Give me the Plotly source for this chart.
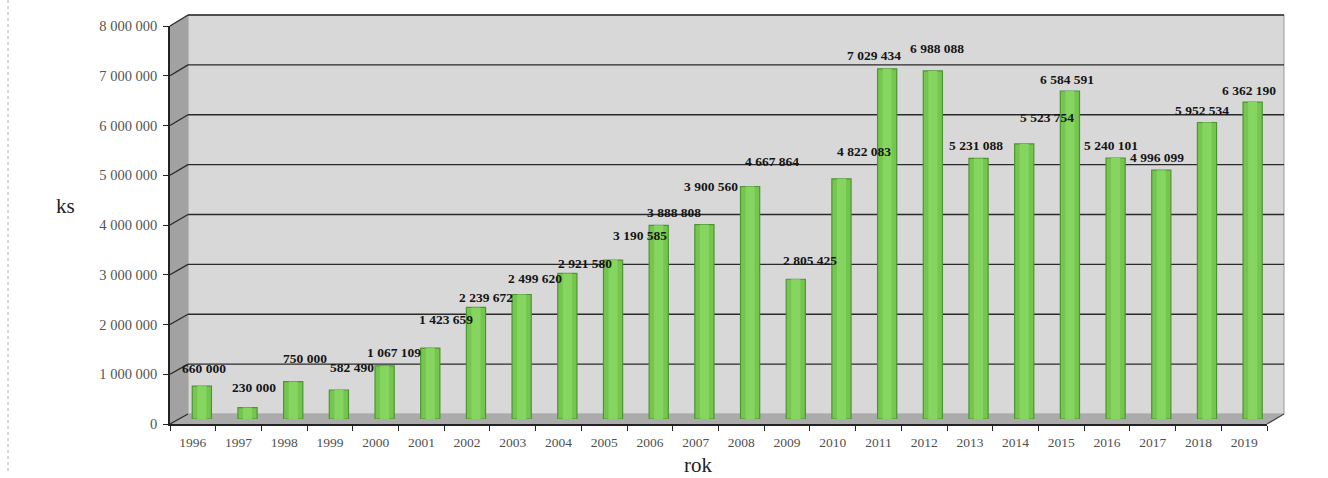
import plotly.graph_objects as go

# ---------------- data ----------------
years = ["1996", "1997", "1998", "1999", "2000", "2001", "2002", "2003",
         "2004", "2005", "2006", "2007", "2008", "2009", "2010", "2011",
         "2012", "2013", "2014", "2015", "2016", "2017", "2018", "2019"]
values = [660000, 230000, 750000, 582490, 1067109, 1423659, 2239672, 2499620,
          2921580, 3190585, 3888808, 3900560, 4667864, 2805425, 4822083, 7029434,
          6988088, 5231088, 5523754, 6584591, 5240101, 4996099, 5952534, 6362190]
labels = ["660 000", "230 000", "750 000", "582 490", "1 067 109", "1 423 659",
          "2 239 672", "2 499 620", "2 921 580", "3 190 585", "3 888 808", "3 900 560",
          "4 667 864", "2 805 425", "4 822 083", "7 029 434", "6 988 088", "5 231 088",
          "5 523 754", "6 584 591", "5 240 101", "4 996 099", "5 952 534", "6 362 190"]
y_tickvals = [0, 1000000, 2000000, 3000000, 4000000, 5000000, 6000000, 7000000, 8000000]
y_ticktext = ["0", "1 000 000", "2 000 000", "3 000 000", "4 000 000", "5 000 000",
              "6 000 000", "7 000 000", "8 000 000"]
Y_MAX = 8000000

# ---------------- layout / style ----------------
W, H = 1328, 478
FX0, FX1, FY0, FY1 = 170, 1267, 424, 26      # front axis plane (pixels)
BX0, BX1, BY0, BY1 = 188, 1284, 414, 15      # back wall plane
MX0, MX1, MY0, MY1 = 179, 1275.5, 419, 20.5  # bar plane (middle depth)

# pixel nudges of each data label relative to the top of its bar (as placed in the original)
label_dx = [2, 6, 12, 13, 9, 16, 10, 13, 18, 27, 15, 7,
            22, 14, 23, -13, 4, -3, 23, -3, -5, -4, -5, -4]
label_dy = [-18, -20, -23, -22, -13, -29, -10, -16, -10, -25, -13, -38,
            -25, -19, -27, -13, -22, -13, -26, -12, -12, -13, -12, -12]


def px(x):
    return x / W


def py(y):
    return 1 - y / H


def fy(v):
    return FY0 + (FY1 - FY0) * v / Y_MAX


def by(v):
    return BY0 + (BY1 - BY0) * v / Y_MAX


SERIF = "Liberation Serif, Times New Roman, serif"

fig = go.Figure()

fig.add_trace(go.Scatter(x=years, y=[None] * len(years), xaxis="x", yaxis="y",
                         mode="markers", showlegend=False, hoverinfo="skip"))
fig.add_trace(go.Scatter(x=years, y=[None] * len(years), xaxis="x2", yaxis="y2",
                         mode="markers", showlegend=False, hoverinfo="skip"))
# cylinder-like bars: body plus a lighter central highlight
fig.add_trace(go.Bar(x=years, y=values, xaxis="x3", yaxis="y3", width=0.42,
                     marker=dict(color="#74c64e", line=dict(color="#4f9434", width=1.2)),
                     showlegend=False))
fig.add_trace(go.Bar(x=years, y=values, xaxis="x3", yaxis="y3", width=0.2,
                     marker=dict(color="#86d561", line=dict(width=0)),
                     showlegend=False, hoverinfo="skip"))

shapes = []
shapes.append(dict(type="rect", xref="paper", yref="paper", layer="below",
                   x0=px(BX0), x1=px(BX1), y0=py(BY0), y1=py(BY1),
                   fillcolor="#d8d8d8", line=dict(color="#9a9a9a", width=1)))
shapes.append(dict(type="path", xref="paper", yref="paper", layer="below",
                   path=f"M {px(FX0)},{py(fy(Y_MAX))} L {px(BX0)},{py(BY1)} L {px(BX0)},{py(BY0)} L {px(FX0)},{py(FY0)} Z",
                   fillcolor="#a2a2a2", line=dict(width=0)))
shapes.append(dict(type="path", xref="paper", yref="paper", layer="below",
                   path=f"M {px(FX0)},{py(FY0)} L {px(BX0)},{py(BY0)} L {px(BX1)},{py(BY0)} L {px(FX1)},{py(FY0)} Z",
                   fillcolor="#ababab", line=dict(width=0)))
shapes.append(dict(type="line", xref="paper", yref="paper", layer="above",
                   x0=px(FX1), y0=py(FY0), x1=px(BX1), y1=py(BY0),
                   line=dict(color="#444444", width=1.2)))
for v in y_tickvals:
    shapes.append(dict(type="line", xref="paper", yref="paper", layer="below",
                       x0=px(FX0), y0=py(fy(v)), x1=px(BX0), y1=py(by(v)),
                       line=dict(color="#2a2a2a", width=1.4)))
for v in y_tickvals[1:]:
    shapes.append(dict(type="line", xref="paper", yref="paper", layer="below",
                       x0=px(BX0), y0=py(by(v)), x1=px(BX1), y1=py(by(v)),
                       line=dict(color="#2a2a2a", width=1.4)))
shapes.append(dict(type="line", xref="paper", yref="paper", layer="below",
                   x0=px(8), y0=py(0), x1=px(8), y1=py(472),
                   line=dict(color="#b0b0b0", width=1, dash="dot")))

annotations = []
for i, (v, t, dx, dy) in enumerate(zip(values, labels, label_dx, label_dy)):
    annotations.append(dict(x=i, y=v, xref="x3", yref="y3", text="<b>" + t + "</b>",
                            showarrow=False, xanchor="center", yanchor="middle",
                            xshift=dx, yshift=-dy,
                            font=dict(family=SERIF, size=13.5, color="#151515")))
annotations.append(dict(x=px(65), y=py(206), xref="paper", yref="paper", text="ks",
                        xanchor="center", yanchor="middle", showarrow=False,
                        font=dict(family=SERIF, size=21, color="#222222")))
annotations.append(dict(x=px(698), y=py(465), xref="paper", yref="paper", text="rok",
                        xanchor="center", yanchor="middle", showarrow=False,
                        font=dict(family=SERIF, size=21, color="#222222")))

hidden = dict(showgrid=False, zeroline=False, showline=False, showticklabels=False,
              ticks="")

fig.update_layout(
    width=W, height=H,
    margin=dict(l=0, r=0, t=0, b=0, pad=0, autoexpand=False),
    paper_bgcolor="white",
    plot_bgcolor="rgba(0,0,0,0)",
    showlegend=False,
    barmode="overlay",
    shapes=shapes,
    annotations=annotations,
    xaxis=dict(domain=[px(FX0), px(FX1)], anchor="y", type="category",
               range=[-0.5, len(years) - 0.5], showgrid=False, zeroline=False,
               showline=True, linecolor="#222222", linewidth=1.5, automargin=False,
               ticks="outside", ticklen=5, tickcolor="#222222", tickson="boundaries",
               ticklabelstandoff=5,
               tickfont=dict(family=SERIF, size=13.5, color="#505050")),
    yaxis=dict(domain=[py(FY0), py(FY1)], anchor="x", range=[0, Y_MAX], automargin=False,
               tickvals=y_tickvals, ticktext=y_ticktext, showgrid=False, zeroline=False,
               showline=True, linecolor="#222222", linewidth=1.5,
               ticks="outside", ticklen=5, tickcolor="#222222", ticklabelstandoff=3,
               tickfont=dict(family=SERIF, size=14.5, color="#555555")),
    xaxis2=dict(domain=[px(BX0), px(BX1)], anchor="y2", type="category",
                range=[-0.5, len(years) - 0.5], automargin=False, **hidden),
    yaxis2=dict(domain=[py(BY0), py(BY1)], anchor="x2", range=[0, Y_MAX],
                automargin=False, **hidden),
    xaxis3=dict(domain=[px(MX0), px(MX1)], anchor="y3", type="category",
                range=[-0.5, len(years) - 0.5], automargin=False, **hidden),
    yaxis3=dict(domain=[py(MY0), py(MY1)], anchor="x3", range=[0, Y_MAX],
                automargin=False, **hidden),
)

fig.write_html("out.html")
